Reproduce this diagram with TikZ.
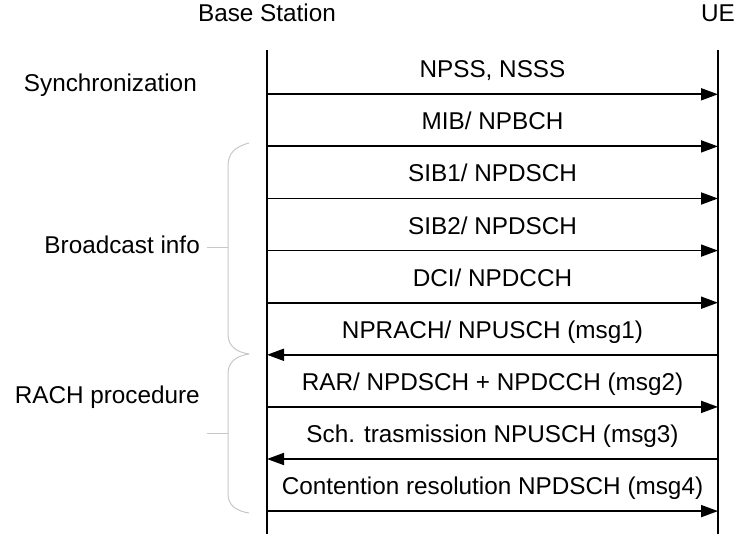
\documentclass[tikz,border=0pt]{standalone}
\usepackage{fontspec}
\setmainfont{Liberation Sans}
\usepackage{tikz}
\usetikzlibrary{arrows.meta,calc}
\tikzset{
lifeline/.style={line width=2pt},
msg/.style={line width=1.8pt,-{Triangle[length=17pt,width=12pt]}},
msglabel/.style={font=\fontsize{24.3}{28}\selectfont,anchor=base,inner sep=0pt},
head/.style={font=\fontsize{24.3}{28}\selectfont,anchor=base,inner sep=0pt},
phase/.style={font=\fontsize{24.3}{28}\selectfont,anchor=base east,inner sep=0pt},
bracket/.style={draw=black!22,line width=1pt},
}

\begin{document}
\begin{tikzpicture}[x=1pt,y=-1pt]
\useasboundingbox (0,0) rectangle (739,534);
% the heads and lifelines
\node[head] (bs) at (267,22) {Base Station};
\node[head] (ue) at (718,22) {UE};
\coordinate (bs-top) at (267,50);
\coordinate (bs-bot) at (267,534);
\coordinate (ue-top) at (718,50);
\coordinate (ue-bot) at (718,534);
\draw[lifeline] (bs-top) -- (bs-bot);
\draw[lifeline] (ue-top) -- (ue-bot);
% the messages
\foreach \i/\txt/\dir in {
  1/{NPSS, NSSS}/r,
  2/{MIB/ NPBCH}/r,
  3/{SIB1/ NPDSCH}/r,
  4/{SIB2/ NPDSCH}/r,
  5/{DCI/ NPDCCH}/r,
  6/{NPRACH/ NPUSCH (msg1)}/l,
  7/{RAR/ NPDSCH + NPDCCH (msg2)}/r,
  8/{Sch. trasmission NPUSCH (msg3)}/l,
  9/{Contention resolution NPDSCH (msg4)}/r}
{
  \coordinate (bs-\i) at ($(bs-top)+(0,{-7.8+52.1*\i})$);
  \coordinate (ue-\i) at ($(ue-top)+(0,{-7.8+52.1*\i})$);
  \node[msglabel] (lbl-\i) at ($(bs-\i)!0.5!(ue-\i)+(0,-16.5)$) {\txt};
  \if\dir r
    \draw[msg] (bs-\i) -- (ue-\i);
  \else
    \draw[msg] (ue-\i) -- (bs-\i);
  \fi
}
% the phases
\node[phase] (sync) at (197,92) {Synchronization};
\node[phase] (bcast) at (200,254) {Broadcast info};
\node[phase] (rach) at (200,403) {RACH procedure};
\draw[bracket] (249,143) .. controls (234,147) and (228,154) .. (228,166)
  -- (228,334) .. controls (228,346) and (236,352) .. (249,354);
\draw[bracket] (249,354) .. controls (236,356) and (228,362) .. (228,374)
  -- (228,494) .. controls (228,505) and (236,511) .. (249,513);
\draw[bracket] (207,248) -- (228,248);
\draw[bracket] (207,433) -- (228,433);
\end{tikzpicture}
\end{document}
